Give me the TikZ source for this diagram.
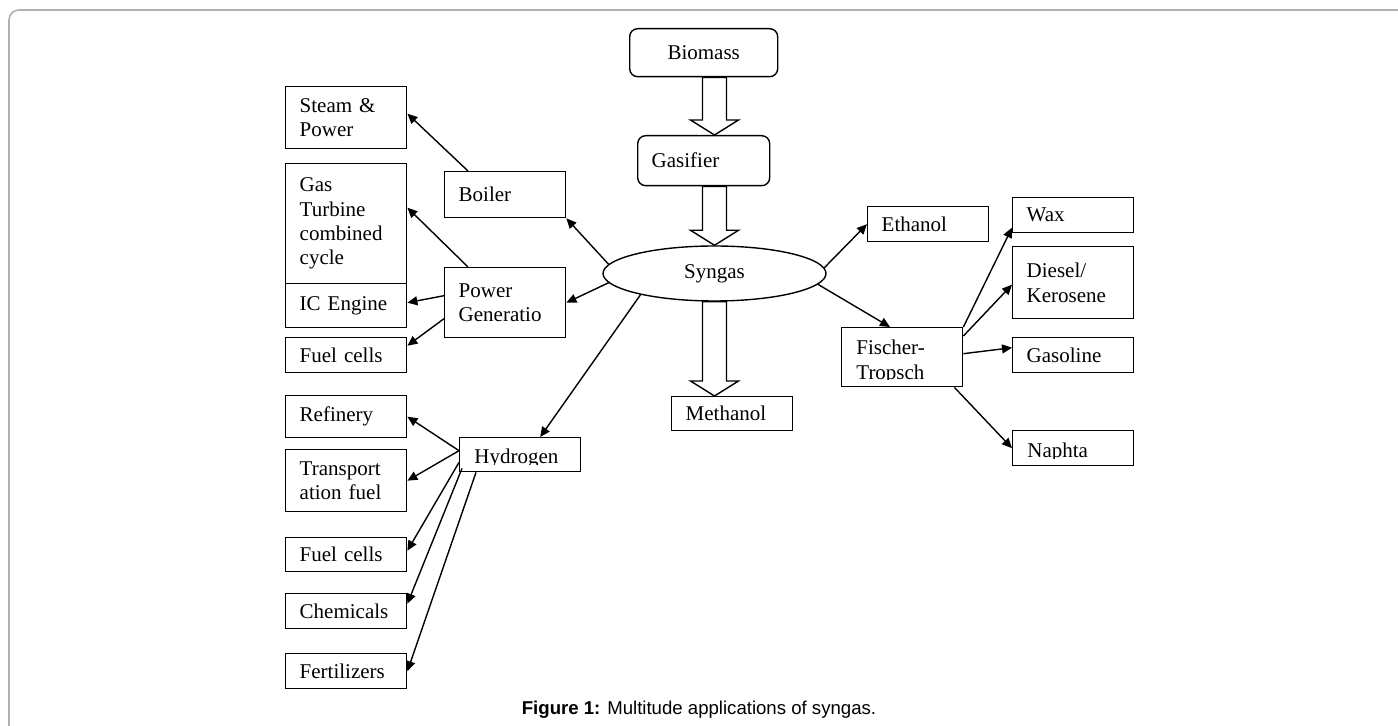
\documentclass[tikz,border=0pt]{standalone}
\usepackage{fontspec}
\setmainfont{Liberation Serif}
\newfontfamily\capfont{Liberation Sans}
\usetikzlibrary{shapes.geometric,arrows.meta,calc}

\newcommand{\boxfont}{\fontsize{10.5}{12.2}\selectfont}
% hollow block arrow from #1 (top) down to #2 (tip)
\newcommand{\fatarrow}[2]{%
  \draw[line width=0.7pt, fill=white] let \p1=#1, \p2=#2 in
    (\x1-6pt,\y1) -- (\x1-6pt,\y2+7.5pt) -- (\x1-12pt,\y2+7.5pt) -- (\x1,\y2)
    -- (\x1+12pt,\y2+7.5pt) -- (\x1+6pt,\y2+7.5pt) -- (\x1+6pt,\y1) -- cycle;}

\tikzset{
  box/.style={draw, rectangle, anchor=north west, inner xsep=7pt, inner ysep=0pt,
    minimum width=60.5pt, text width=46.5pt, align=left, line width=0.7pt},
  rbox/.style={box, rounded corners=4pt},
  cut/.style 2 args={path picture={
    \clip ([yshift=3.5pt]path picture bounding box.south west) rectangle (path picture bounding box.north east);
    \node[anchor=base west, inner sep=0pt, minimum width=0pt, minimum height=0pt, align=left, font=\boxfont]
      at ([xshift=7pt,yshift=-#2]path picture bounding box.north west) {#1};}},
  link/.style={-{Triangle[length=5pt,width=4.5pt]}, line width=0.7pt},
}

\begin{document}
\begin{tikzpicture}[x=0.5pt, y=-0.5pt, font=\boxfont]
  \useasboundingbox (0,0) rectangle (1398,726);
  \draw[black!30, line width=0.8pt, rounded corners=5pt] (9,726) -- (9,10) -- (1398,10);

  % centre column
  \node[rbox, align=center, minimum width=74pt, text width=60pt, minimum height=24pt] (bio) at (629,28) {Biomass};
  \node[rbox, minimum width=66pt, text width=52pt, minimum height=25pt] (gas) at (637,135) {Gasifier};
  \node[draw, ellipse, minimum width=111.5pt, minimum height=27.5pt, inner sep=0pt, line width=0.7pt] (syn) at (714.5,273.5) {Syngas};
  \node[box, minimum height=17pt] (meth) at (671,396) {Methanol};

  % right side
  \node[box, minimum height=17.5pt] (eth) at (867,206) {Ethanol};
  \node[box, minimum height=29.5pt, cut={Fischer-\\Tropsch}{13.5pt}] (ft) at (841,327) {};
  \node[box, minimum height=17.5pt] (wax) at (1012,197) {Wax};
  \node[box, minimum height=36pt] (dies) at (1012,246) {Diesel/\\Kerosene};
  \node[box, minimum height=17.5pt] (gasl) at (1012,337) {Gasoline};
  \node[box, minimum height=17.5pt, cut={Naphta}{13.5pt}] (nap) at (1012,430) {};

  % left side
  \node[box, minimum height=23pt] (boil) at (444,171) {Boiler};
  \node[box, minimum height=35pt] (pg) at (444,267) {Power\\Generatio};
  \node[box, minimum height=17pt, cut={Hydrogen}{13pt}] (hyd) at (459,437) {};
  \node[box, minimum height=31pt] (steam) at (285,86) {Steam \&\\Power};
  \node[box, minimum height=60pt] (gt) at (285,163) {Gas\\Turbine\\combined\\cycle};
  \node[box, minimum height=22pt] (ice) at (285,283) {IC Engine};
  \node[box, minimum height=17.5pt] (fc1) at (285,337) {Fuel cells};
  \node[box, minimum height=21pt] (ref) at (285,395) {Refinery};
  \node[box, minimum height=31pt] (trans) at (285,449) {Transport\\ation fuel};
  \node[box, minimum height=17pt] (fc2) at (285,537) {Fuel cells};
  \node[box, minimum height=17.5pt] (chem) at (285,593) {Chemicals};
  \node[box, minimum height=17.5pt] (fert) at (285,653) {Fertilizers};

  \fatarrow{(syn.north |- bio.south)}{(syn.north |- gas.north)}
  \fatarrow{(syn.north |- gas.south)}{(syn.north)}
  \fatarrow{(syn.south)}{(syn.south |- meth.north)}

  \draw[link] ([xshift=12pt]boil.north west) -- ([yshift=2pt]steam.east);
  \draw[link] (syn.175) -- (boil.south east);
  \draw[link] ([xshift=12pt]pg.north west) -- ([yshift=8pt]gt.east);
  \draw[link] (syn.185) -- (pg.east);
  \draw[link] ([yshift=3.5pt]pg.west) -- ([yshift=1.5pt]ice.east);
  \draw[link] ([yshift=-8pt]pg.west) -- ([yshift=4.75pt]fc1.east);
  \draw[link] (syn.196) -- ([xshift=10pt]hyd.north);
  \draw[link] ([yshift=2pt]hyd.west) -- (ref.east);
  \draw[link] ([yshift=2pt]hyd.west) -- (trans.east);
  \draw[link] ([yshift=5pt]hyd.south west) -- ([yshift=2pt]fc2.east);
  \draw[link] ([xshift=1.5pt,yshift=2pt]hyd.south west) -- ([yshift=3.75pt]chem.east);
  \draw[link] ([xshift=8.5pt]hyd.south west) -- (fert.east);
  \draw[link] (syn.3) -- (eth.west);
  \draw[link] (syn.-6) -- ([xshift=24.5pt]ft.north west);
  \draw[link] (ft.north east) -- ([yshift=-6.25pt]wax.west);
  \draw[link] ([yshift=-4.5pt]ft.north east) -- ([yshift=-1pt]dies.west);
  \draw[link] ([yshift=1.75pt]ft.east) -- ([yshift=3.75pt]gasl.west);
  \draw[link] ([xshift=-4.5pt]ft.south east) -- (nap.west);

  \node[font=\capfont\fontsize{9.3}{11}\selectfont, anchor=base] (cap) at (699,714)
    {\textbf{Figure 1:} Multitude applications of syngas.};
\end{tikzpicture}
\end{document}
